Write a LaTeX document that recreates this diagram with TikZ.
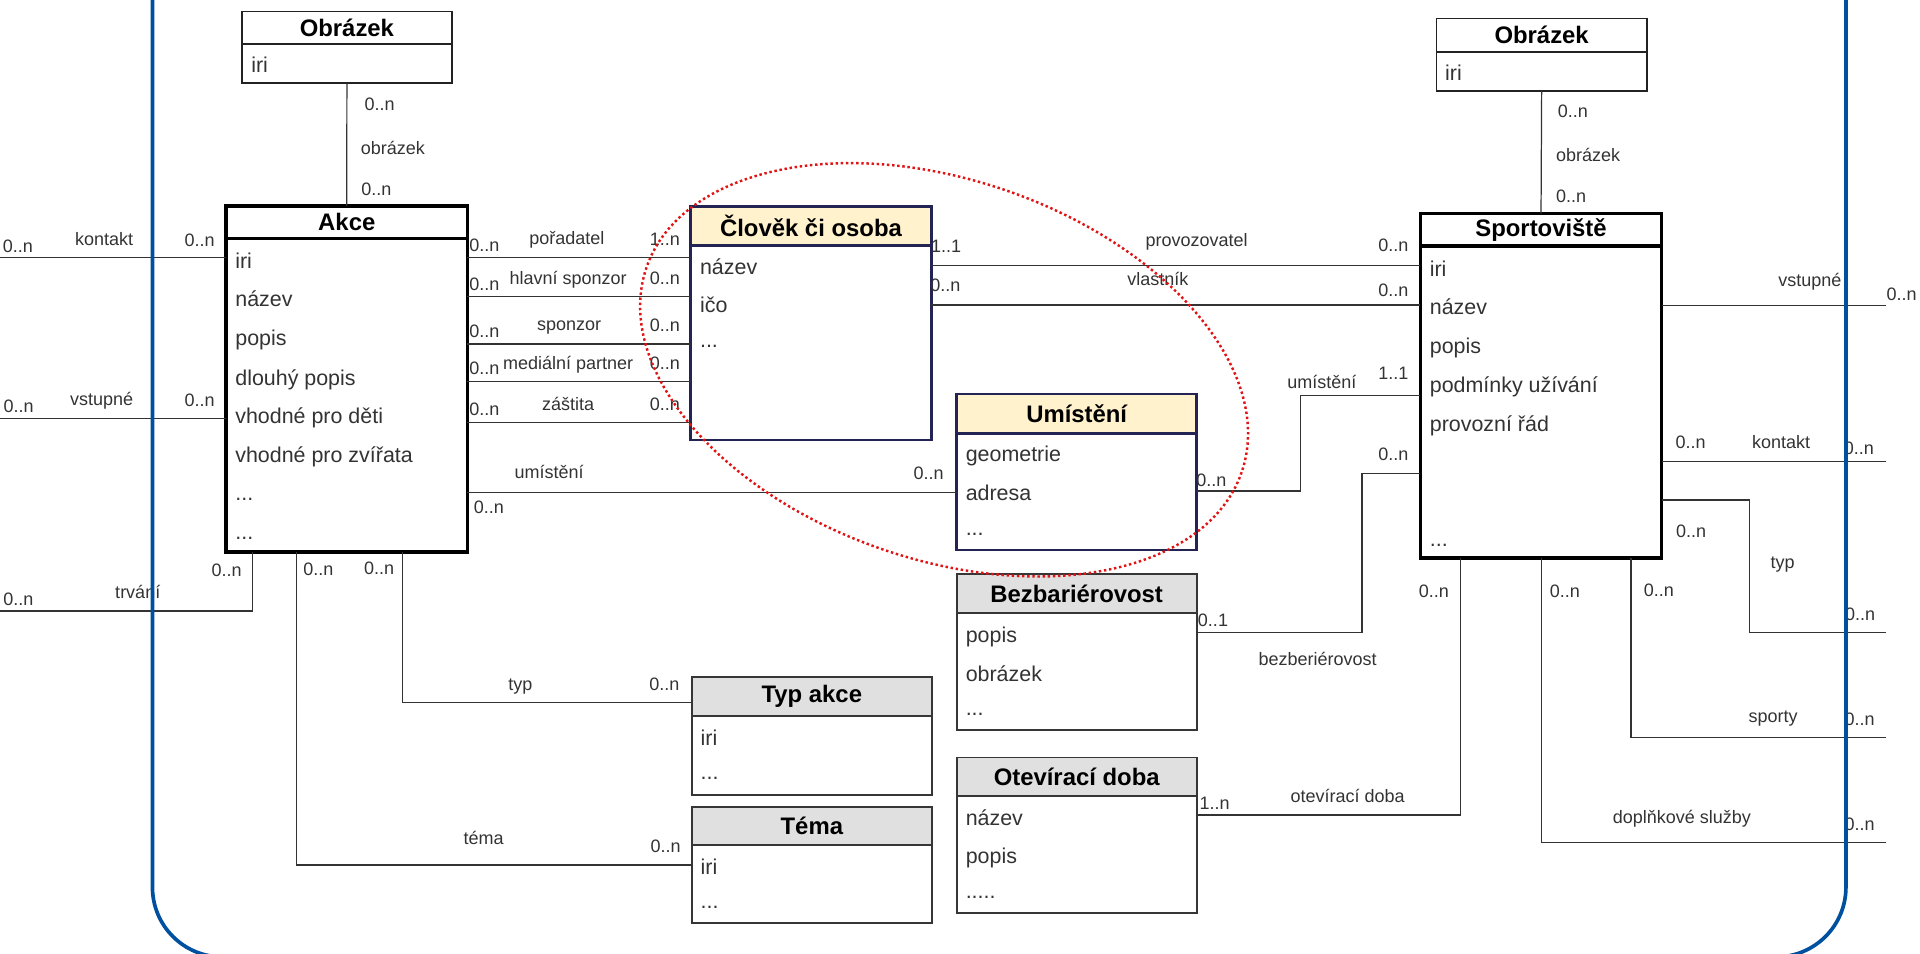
\documentclass[tikz,border=0pt]{standalone}
\usepackage{fontspec}
\setmainfont{Liberation Sans}
\usetikzlibrary{positioning}
\definecolor{linegray}{RGB}{51,51,51}
\definecolor{txtgray}{RGB}{51,51,51}
\definecolor{boxgray}{RGB}{34,34,34}
\definecolor{corenavy}{RGB}{36,36,84}
\definecolor{coreyellow}{RGB}{255,242,204}
\definecolor{sidegray}{RGB}{54,54,54}
\definecolor{sidefill}{RGB}{224,224,224}
\definecolor{dotred}{RGB}{224,20,20}
\definecolor{frameblue}{RGB}{0,80,160}

\begin{document}
\begin{tikzpicture}[
  x=1pt,y=-1pt,
  ent/.style={rectangle,draw=boxgray,line width=1.3,fill=white,inner sep=0pt,outer sep=0pt,minimum width=196},
  enthead/.style={ent,font=\fontsize{19.5}{22}\selectfont\bfseries},
  heavy/.style={line width=3,draw=black},
  core/.style={line width=2,draw=corenavy},
  corehead/.style={core,fill=coreyellow},
  sidebox/.style={line width=1.5,draw=sidegray},
  sidehead/.style={sidebox,fill=sidefill},
  attr/.style={anchor=west,inner sep=0pt,font=\fontsize{17.5}{20}\selectfont,text=txtgray,text height=11,text depth=0},
  lbl/.style={inner sep=0pt,font=\fontsize{14.7}{17}\selectfont,text=txtgray,text height=10.5,text depth=0},
  conn/.style={draw=linegray,line width=1},
  focusring/.style={draw=dotred,line width=2,dash pattern=on 2pt off 2.2pt},
  framing/.style={draw=frameblue,line width=3,rounded corners=57}
]
\useasboundingbox (0,0) rectangle (1568,779);

% entities, event side
\node[enthead,minimum width=171.4,minimum height=26.6] (obrl-h) at (283.3,22.6) {Obrázek};
\node[ent,minimum width=171.4,minimum height=32.1,below=0pt of obrl-h] (obrl) {};
\node[attr] (obrl-iri) at (205,54) {iri};

\node[enthead,heavy,minimum width=197,minimum height=26.5] (akce-h) at (283.2,181.5) {Akce};
\node[ent,heavy,minimum width=197,minimum height=256,below=0pt of akce-h] (akce) {};
\node[attr] (akce-iri) at (192,213.5) {iri};
\node[attr] (akce-nazev) at (192,245) {název};
\node[attr] (akce-popis) at (192,277) {popis};
\node[attr] (akce-dlouhy) at (192,309) {dlouhý popis};
\node[attr] (akce-deti) at (192,340.6) {vhodné pro děti};
\node[attr] (akce-zvirata) at (192,372.6) {vhodné pro zvířata};
\node[attr] (akce-dots1) at (192,403) {...};
\node[attr] (akce-dots2) at (192,435) {...};

\node[enthead,corehead,minimum width=196.6,minimum height=31.8] (clovek-h) at (662.3,184.7) {Člověk či osoba};
\node[ent,core,minimum width=196.6,minimum height=158.7,below=0pt of clovek-h] (clovek) {};
\node[attr] (clovek-nazev) at (571.5,218.3) {název};
\node[attr] (clovek-ico) at (571.5,250) {ičo};
\node[attr] (clovek-dots) at (571.5,278.6) {...};

\node[enthead,corehead,minimum height=32.1] (umist-h) at (879.3,337.9) {Umístění};
\node[ent,core,minimum height=95.3,below=0pt of umist-h] (umist) {};
\node[attr] (umist-geom) at (788.5,371.6) {geometrie};
\node[attr] (umist-adresa) at (788.5,402.9) {adresa};
\node[attr] (umist-dots) at (788.5,432) {...};

\node[enthead,sidehead,minimum height=31.7] (typakce-h) at (663,568.9) {Typ akce};
\node[ent,sidebox,minimum height=64.6,below=0pt of typakce-h] (typakce) {};
\node[attr] (typakce-iri) at (572,603.5) {iri};
\node[attr] (typakce-dots) at (572,631) {...};

\node[enthead,sidehead,minimum height=31.5] (tema-h) at (663,674.6) {Téma};
\node[ent,sidebox,minimum height=63.7,below=0pt of tema-h] (tema) {};
\node[attr] (tema-iri) at (572,709) {iri};
\node[attr] (tema-dots) at (572,736.6) {...};

% entities, venue side
\node[enthead,minimum width=172,minimum height=27.1] (obrr-h) at (1259,28.8) {Obrázek};
\node[ent,minimum width=172,minimum height=32.1,below=0pt of obrr-h] (obrr) {};
\node[attr] (obrr-iri) at (1180,60.5) {iri};

\node[enthead,heavy,minimum width=197,minimum height=26.3] (sport-h) at (1258.5,187.6) {Sportoviště};
\node[ent,heavy,minimum width=197,minimum height=254.8,below=0pt of sport-h] (sport) {};
\node[attr] (sport-iri) at (1167.5,220) {iri};
\node[attr] (sport-nazev) at (1167.5,251.4) {název};
\node[attr] (sport-popis) at (1167.5,283) {popis};
\node[attr] (sport-podminky) at (1167.5,315) {podmínky užívání};
\node[attr] (sport-rad) at (1167.5,347) {provozní řád};
\node[attr] (sport-dots) at (1167.5,441) {...};

\node[enthead,sidehead,minimum height=31.6] (bezbar-h) at (879.3,484.6) {Bezbariérovost};
\node[ent,sidebox,minimum height=95.6,below=0pt of bezbar-h] (bezbar) {};
\node[attr] (bezbar-popis) at (788.5,519.4) {popis};
\node[attr] (bezbar-obrazek) at (788.5,550.7) {obrázek};
\node[attr] (bezbar-dots) at (788.5,579) {...};

\node[enthead,sidehead,minimum height=31.5] (otev-h) at (879.3,634.3) {Otevírací doba};
\node[ent,sidebox,minimum height=95.4,below=0pt of otev-h] (otev) {};
\node[attr] (otev-nazev) at (788.5,668.3) {název};
\node[attr] (otev-popis) at (788.5,700) {popis};
\node[attr] (otev-dots) at (788.5,728.6) {.....};

% free ends outside the frame
\coordinate (kontakt-l) at (0,210.6);
\coordinate (vstupne-l) at (0,342);
\coordinate (trvani-l) at (0,499);
\coordinate (vstupne-r) at (1540,249.4);
\coordinate (kontakt-r) at (1540,376.7);
\coordinate (typ-r) at (1540,516.4);
\coordinate (sporty-r) at (1540,602);
\coordinate (sluzby-r) at (1540,688);

% connectors
\draw[conn] (obrl.south) -- (akce-h.north);
\draw[conn] (kontakt-l) -- (akce.west |- kontakt-l);
\draw[conn] (vstupne-l) -- (akce.west |- vstupne-l);
\draw[conn] (akce.south -| 206.5,0) |- (trvani-l);
\draw[conn] (akce.south -| 328.6,0) |- (typakce-h.west |- 0,574);
\draw[conn] (akce.south -| 242,0) |- (tema.west |- 0,706.4);
\draw[conn] (akce.east |- 0,210) -- (clovek.west |- 0,210);
\draw[conn] (akce.east |- 0,242) -- (clovek.west |- 0,242);
\draw[conn] (akce.east |- 0,281) -- (clovek.west |- 0,281);
\draw[conn] (akce.east |- 0,311.5) -- (clovek.west |- 0,311.5);
\draw[conn] (akce.east |- 0,345) -- (clovek.west |- 0,345);
\draw[conn] (akce.east |- 0,402.5) -- (umist.west |- 0,402.5);
\draw[conn] (clovek.east |- 0,217) -- (sport.west |- 0,217);
\draw[conn] (clovek.east |- 0,249) -- (sport.west |- 0,249);
\draw[conn] (umist.east |- 0,401) -- ++(85,0) |- (sport.west |- 0,323);
\draw[conn] (bezbar.east |- 0,516.4) -- ++(135,0) |- (sport.west |- 0,387);
\draw[conn] (otev.east |- 0,665.6) -| (sport.south -| 1192.8,0);
\draw[conn] (obrr.south) -- (sport-h.north);
\draw[conn] (sport.east |- vstupne-r) -- (vstupne-r);
\draw[conn] (sport.east |- kontakt-r) -- (kontakt-r);
\draw[conn] (sport.east |- 0,408.3) -- ++(71.5,0) |- (typ-r);
\draw[conn] (sport.south -| 1332,0) |- (sporty-r);
\draw[conn] (sport.south -| 1258.6,0) |- (sluzby-r);

% connector labels
\node[lbl] (obrl-c1) at (310,84.6) {0..n};
\node[lbl] (obrl-r) at (320.8,121) {obrázek};
\node[lbl] (obrl-c2) at (307.3,154) {0..n};
\node[lbl] (kontakt-c1) at (14.6,200.7) {0..n};
\node[lbl] (kontakt-t) at (85,195.4) {kontakt};
\node[lbl] (kontakt-c2) at (163,196) {0..n};
\node[lbl] (vstupne-c1) at (15.3,331.6) {0..n};
\node[lbl] (vstupne-t) at (83,326) {vstupné};
\node[lbl] (vstupne-c2) at (163,326.6) {0..n};
\node[lbl] (trvani-c1) at (15,489) {0..n};
\node[lbl] (trvani-t) at (112.5,483.7) {trvání};
\node[lbl] (trvani-c2) at (185,465.5) {0..n};
\node[lbl] (typ-c1) at (309.6,464) {0..n};
\node[lbl] (typ-t) at (425,558.6) {typ};
\node[lbl] (typ-c2) at (542.6,558.6) {0..n};
\node[lbl] (tema-c1) at (260,464.8) {0..n};
\node[lbl] (tema-t) at (395,684.4) {téma};
\node[lbl] (tema-c2) at (543.6,691) {0..n};
\node[lbl] (poradatel-c1) at (395.6,199.8) {0..n};
\node[lbl] (poradatel-t) at (463,194.8) {pořadatel};
\node[lbl] (poradatel-c2) at (543,195) {1..n};
\node[lbl] (hlavni-c1) at (395.6,231.9) {0..n};
\node[lbl] (hlavni-t) at (464,227) {hlavní sponzor};
\node[lbl] (hlavni-c2) at (543,227) {0..n};
\node[lbl] (sponzor-c1) at (395.6,270.7) {0..n};
\node[lbl] (sponzor-t) at (464.8,264.8) {sponzor};
\node[lbl] (sponzor-c2) at (543,265.4) {0..n};
\node[lbl] (medialni-c1) at (395.6,300.4) {0..n};
\node[lbl] (medialni-t) at (464,296.6) {mediální partner};
\node[lbl] (medialni-c2) at (543,296.6) {0..n};
\node[lbl] (zastita-c1) at (395.6,334) {0..n};
\node[lbl] (zastita-t) at (464,329.6) {záštita};
\node[lbl] (zastita-c2) at (543,329.6) {0..n};
\node[lbl] (umistA-c1) at (399.2,414) {0..n};
\node[lbl] (umistA-t) at (448.5,385.5) {umístění};
\node[lbl] (umistA-c2) at (758.3,386) {0..n};
\node[lbl] (provoz-c1) at (772.7,200.9) {1..1};
\node[lbl] (provoz-t) at (977.2,196) {provozovatel};
\node[lbl] (provoz-c2) at (1138,200) {0..n};
\node[lbl] (vlastnik-c1) at (772,232.7) {0..n};
\node[lbl] (vlastnik-t) at (945.6,227.9) {vlastník};
\node[lbl] (vlastnik-c2) at (1138,237) {0..n};
\node[lbl] (umistS-c1) at (989.2,392) {0..n};
\node[lbl] (umistS-t) at (1079.5,311.7) {umístění};
\node[lbl] (umistS-c2) at (1138,305) {1..1};
\node[lbl] (bezbar-c1) at (990.6,506) {0..1};
\node[lbl] (bezbar-t) at (1076,538) {bezberiérovost};
\node[lbl] (bezbar-c2) at (1138,371) {0..n};
\node[lbl] (otev-c1) at (992,656) {1..n};
\node[lbl] (otev-t) at (1100.5,650) {otevírací doba};
\node[lbl] (otev-c2) at (1171,483) {0..n};
\node[lbl] (obrr-c1) at (1284.5,91) {0..n};
\node[lbl] (obrr-r) at (1297,127) {obrázek};
\node[lbl] (obrr-c2) at (1283,160) {0..n};
\node[lbl] (vstupneR-t) at (1478,229) {vstupné};
\node[lbl] (vstupneR-c) at (1553,240) {0..n};
\node[lbl] (kontaktR-c1) at (1380.7,360.8) {0..n};
\node[lbl] (kontaktR-t) at (1454.5,360.8) {kontakt};
\node[lbl] (kontaktR-c2) at (1518,366) {0..n};
\node[lbl] (typR-c1) at (1381,433.8) {0..n};
\node[lbl] (typR-t) at (1455.7,458.7) {typ};
\node[lbl] (typR-c2) at (1519,501.4) {0..n};
\node[lbl] (sporty-c1) at (1354.7,482) {0..n};
\node[lbl] (sporty-t) at (1448,584.7) {sporty};
\node[lbl] (sporty-c2) at (1518.6,587) {0..n};
\node[lbl] (sluzby-c1) at (1278,483) {0..n};
\node[lbl] (sluzby-t) at (1373.5,667) {doplňkové služby};
\node[lbl] (sluzby-c2) at (1518.6,673) {0..n};

% highlight and frame
\draw[focusring,rotate around={-19:(771,302)}] (771,302) ellipse [x radius=257,y radius=155];
\draw[framing] (124.5,-80) rectangle (1507.5,781.5);
\end{tikzpicture}
\end{document}
